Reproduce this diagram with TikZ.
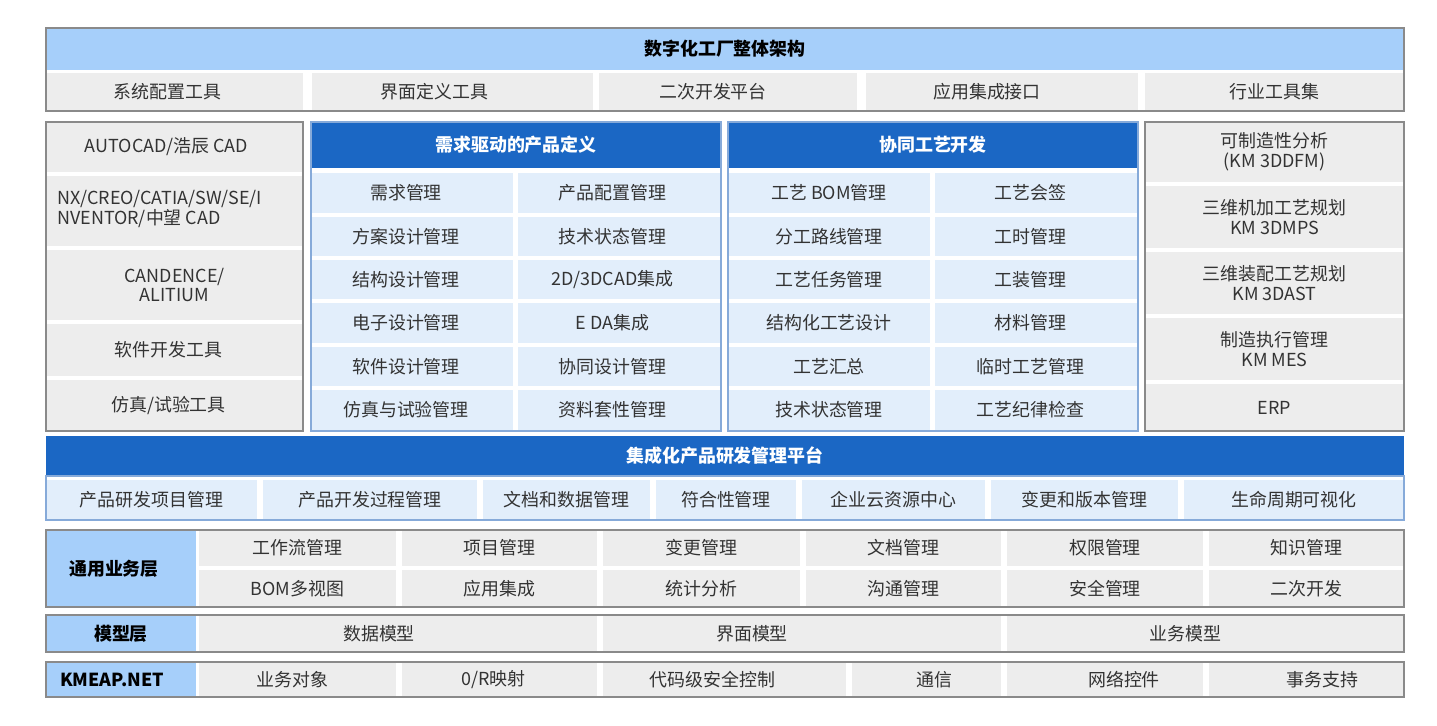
\documentclass[tikz,border=0pt]{standalone}
\usepackage{fontspec}
\setmainfont{Noto Sans CJK SC}

\definecolor{titleblue}{HTML}{A6CFFA}
\definecolor{headblue}{HTML}{1B67C4}
\definecolor{cellblue}{HTML}{E2EEFB}
\definecolor{cellgray}{HTML}{EDEDED}
\definecolor{framegray}{HTML}{8A8A8A}
\definecolor{frameblue}{HTML}{86AAD9}
\definecolor{txtgray}{HTML}{333333}

\tikzset{
  span/.style args={#1:#2:#3:#4}{minimum width={(#2-#1)*1bp},
    minimum height={(#4-#3)*1bp}, at={({(#1+#2)/2},{(#3+#4)/2})}},
  box/.style={rectangle, inner sep=0, text=txtgray,
    font=\fontsize{18}{20}\selectfont},
  graycell/.style={box, fill=cellgray},
  bluecell/.style={box, fill=cellblue},
  twoline/.style={align=center},
  headbar/.style={box, fill=headblue, text=white,
    font=\fontsize{18}{20}\selectfont\bfseries},
  layerlabel/.style={box, fill=titleblue, text=black,
    font=\fontsize{18}{20}\selectfont\bfseries},
  grayframe/.style={rectangle, inner sep=0, draw=framegray, line width=1.2bp},
  blueframe/.style={rectangle, inner sep=0, draw=frameblue, line width=1.2bp},
}

\begin{document}
\begin{tikzpicture}[x=1bp,y=-1bp]
  \useasboundingbox (0,0) rectangle (1437,725);

  % top: title and tools
  \node (ttl) [layerlabel, span=46:1404:28:70] {数字化工厂整体架构};
  \foreach \n/\xa/\xb/\t in {t1/46/303/系统配置工具\hspace*{14bp},
      t2/312/593/界面定义工具\hspace*{36bp}, t3/599/857/二次开发平台\hspace*{30bp},
      t4/866/1138/应用集成接口\hspace*{30bp}, t5/1145/1404/行业工具集}
    \node (\n) [graycell, span=\xa:\xb:73:111] {\t};
  \node (topfr) [grayframe, span=46:1404:28:111] {};

  % left column
  \foreach \n/\ya/\yb/\t in {l1/122/172/{AUTOCAD/浩辰 CAD\hspace*{16bp}},
      l4/324/376/软件开发工具\hspace*{12bp}, l5/380/431/{仿真/试验工具\hspace*{12bp}}}
    \node (\n) [graycell, span=46:303:\ya:\yb] {\t};
  \node (l3) [graycell, twoline, span=46:303:250:320] {CANDENCE/\\ALITIUM};
  \node (l2) [graycell, span=46:303:176:246] {};
  \node (l2txt) [box, align=left, anchor=north west] at (57,190)
    {NX/CREO/CATIA/SW/SE/I\\NVENTOR/中望 CAD};
  \node (leftfr) [grayframe, span=46:303:122:431] {};

  % product definition
  \node (ha) [headbar, span=311:721:122:168] {需求驱动的产品定义};
  \foreach \n/\ya/\yb/\ta/\tb in {1/173/213/需求管理/产品配置管理,
      2/217/256/方案设计管理/技术状态管理, 3/260/299/结构设计管理/{2D/3DCAD集成},
      4/303/343/电子设计管理/E DA集成, 5/347/386/软件设计管理/协同设计管理,
      6/390/430/仿真与试验管理/资料套性管理}
  {
    \node (a\n l) [bluecell, span=311:513:\ya:\yb] {\ta\hspace*{12bp}};
    \node (a\n r) [bluecell, span=518:721:\ya:\yb] {\tb\hspace*{14bp}};
  }
  \node (afr) [blueframe, span=311:721:122:431] {};

  % process development
  \node (hb) [headbar, span=728:1138:122:168] {协同工艺开发};
  \foreach \n/\ya/\yb/\ta/\tb in {1/173/213/工艺 BOM管理/工艺会签,
      2/217/256/分工路线管理/工时管理, 3/260/299/工艺任务管理/工装管理,
      4/303/343/结构化工艺设计/材料管理, 5/347/386/工艺汇总/临时工艺管理,
      6/390/430/技术状态管理/工艺纪律检查}
  {
    \node (b\n l) [bluecell, span=728:930:\ya:\yb] {\ta};
    \node (b\n r) [bluecell, span=935:1138:\ya:\yb] {\tb\hspace*{12bp}};
  }
  \node (bfr) [blueframe, span=728:1138:122:431] {};

  % right column
  \foreach \n/\ya/\yb/\t in {r1/122/182/可制造性分析\\(KM 3DDFM),
      r2/186/248/三维机加工艺规划\\KM 3DMPS, r3/252/314/三维装配工艺规划\\KM 3DAST,
      r4/318/380/制造执行管理\\KM MES}
    \node (\n) [graycell, twoline, span=1145:1404:\ya:\yb] {\t};
  \node (r5) [graycell, span=1145:1404:384:431] {ERP};
  \node (rightfr) [grayframe, span=1145:1404:122:431] {};

  % platform
  \node (hp) [headbar, span=46:1404:436:476] {集成化产品研发管理平台};
  \foreach \n/\xa/\xb/\t in {p1/46/257/产品研发项目管理, p2/263/477/产品开发过程管理,
      p3/483/650/文档和数据管理, p4/656/796/符合性管理, p5/802/985/企业云资源中心,
      p6/991/1178/变更和版本管理, p7/1184/1404/生命周期可视化}
    \node (\n) [bluecell, span=\xa:\xb:480:520] {\t};
  \node (pfr) [blueframe, span=46:1404:476:520] {};

  % common business layer
  \node (cl) [layerlabel, span=46:196:530:607] {通用业务层\hspace*{14bp}};
  \foreach \n/\xa/\xb/\ta/\tb in {1/199/396/工作流管理/BOM多视图,
      2/402/597/项目管理/应用集成, 3/603/800/变更管理/统计分析,
      4/806/1001/文档管理/沟通管理, 5/1007/1203/权限管理/安全管理,
      6/1209/1404/知识管理/二次开发}
  {
    \node (c\n u) [graycell, span=\xa:\xb:530:566] {\ta};
    \node (c\n d) [graycell, span=\xa:\xb:570:607] {\tb};
  }
  \node (cfr) [grayframe, span=46:1404:530:607] {};

  % model layer
  \node (ml) [layerlabel, span=46:196:615:652] {模型层};
  \foreach \n/\xa/\xb/\t in {m1/199/597/数据模型\hspace*{38bp},
      m2/603/1001/界面模型\hspace*{100bp}, m3/1007/1404/业务模型\hspace*{40bp}}
    \node (\n) [graycell, span=\xa:\xb:615:652] {\t};
  \node (mfr) [grayframe, span=46:1404:615:652] {};

  % KMEAP.NET
  \node (kl) [layerlabel, span=46:196:662:697] {KMEAP.NET\hspace*{18bp}};
  \foreach \n/\xa/\xb/\t in {k1/199/396/业务对象\hspace*{10bp},
      k2/402/597/{0/R映射\hspace*{12bp}}, k3/603/846/代码级安全控制\hspace*{24bp},
      k4/852/1001/\hspace*{16bp}通信, k5/1007/1203/\hspace*{38bp}网络控件,
      k6/1209/1404/\hspace*{32bp}事务支持}
    \node (\n) [graycell, span=\xa:\xb:662:697] {\t};
  \node (kfr) [grayframe, span=46:1404:662:697] {};

\end{tikzpicture}
\end{document}
